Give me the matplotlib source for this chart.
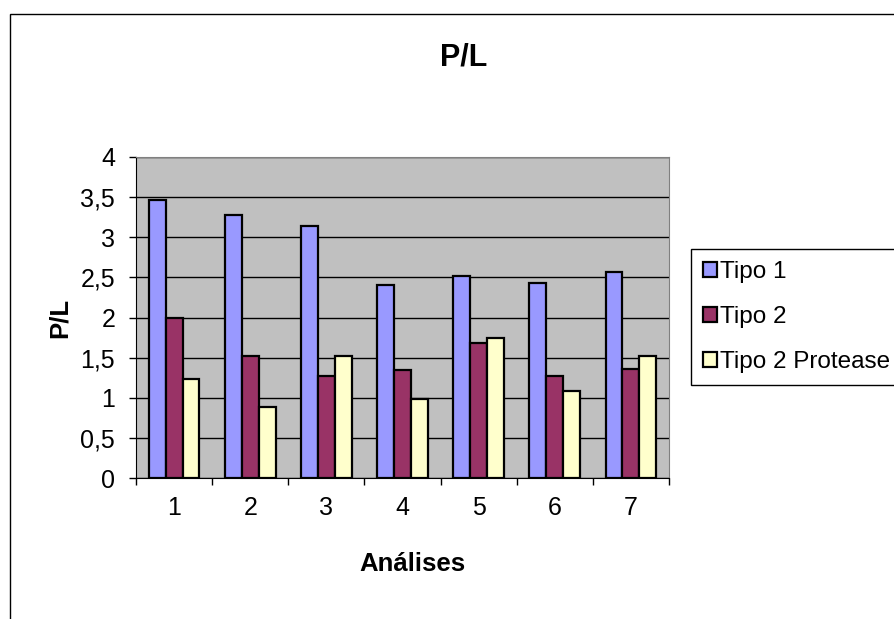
import matplotlib.pyplot as plt
from matplotlib.patches import Rectangle
from matplotlib.ticker import FuncFormatter, FixedLocator
import numpy as np

plt.rcParams['font.family'] = ['Liberation Sans', 'DejaVu Sans']

# Data
analises = ['1', '2', '3', '4', '5', '6', '7']
tipo1 = [3.46, 3.28, 3.14, 2.40, 2.52, 2.43, 2.57]
tipo2 = [1.99, 1.52, 1.27, 1.34, 1.68, 1.27, 1.36]
tipo2_protease = [1.23, 0.88, 1.52, 0.99, 1.75, 1.08, 1.52]

series = [
    ('Tipo 1', tipo1, '#9999FF'),
    ('Tipo 2', tipo2, '#993366'),
    ('Tipo 2 Protease', tipo2_protease, '#FFFFCC'),
]

W, H = 895, 619
fig = plt.figure(figsize=(W / 100, H / 100), dpi=100)

# chart area border (Excel style)
fig.patches.append(Rectangle((10 / W, -0.1), 1.1, (H - 14) / H + 0.1,
                             transform=fig.transFigure, fill=False,
                             edgecolor='black', linewidth=1))

ax = fig.add_axes([136 / W, (H - 478) / H, (669 - 136) / W, (478 - 157) / H])
ax.set_facecolor('#C0C0C0')

x = np.arange(len(analises))
bar_w = 1 / 4.5
for i, (name, vals, color) in enumerate(series):
    ax.bar(x + (i - 1) * bar_w, vals, width=bar_w, color=color,
           edgecolor='black', linewidth=1.6, label=name, zorder=3)

ax.set_xlim(-0.5, len(analises) - 0.5)
ax.set_ylim(0, 4)
ax.set_yticks(np.arange(0, 4.01, 0.5))
ax.yaxis.set_major_formatter(FuncFormatter(
    lambda v, p: ('%g' % v).replace('.', ',')))
ax.grid(axis='y', color='black', linewidth=1, zorder=1)

# category labels centred, tick marks between categories
ax.set_xticks(x)
ax.set_xticklabels(analises)
ax.xaxis.set_minor_locator(FixedLocator(np.arange(-0.5, len(analises), 1)))
ax.tick_params(axis='x', which='major', length=0, pad=13, labelsize=18)
ax.tick_params(axis='x', which='minor', length=5, width=1, direction='out')
ax.tick_params(axis='y', length=5, width=1, direction='out', labelsize=18, pad=10)

for side in ['top', 'right']:
    ax.spines[side].set_color('#808080')
for side in ['left', 'bottom']:
    ax.spines[side].set_color('black')

fig.text(464 / W, 1 - 58 / H, 'P/L', fontsize=22, fontweight='bold',
         ha='center', va='center')
fig.text(412 / W, 1 - 564 / H, 'Análises', fontsize=18.5, fontweight='bold',
         ha='center', va='center')
fig.text(60 / W, 1 - 318 / H, 'P/L', fontsize=18.5, fontweight='bold',
         ha='center', va='center', rotation=90)

leg = ax.legend(loc='center left', bbox_to_anchor=(691 / W, 1 - 317 / H),
                bbox_transform=fig.transFigure, fontsize=17.5, frameon=True,
                fancybox=False, edgecolor='black', framealpha=1,
                handlelength=0.55, handleheight=0.55, handletextpad=0.15,
                labelspacing=0.95, borderpad=0.5, borderaxespad=0)
leg.get_frame().set_linewidth(1)

fig.savefig('out.png', dpi=100)
